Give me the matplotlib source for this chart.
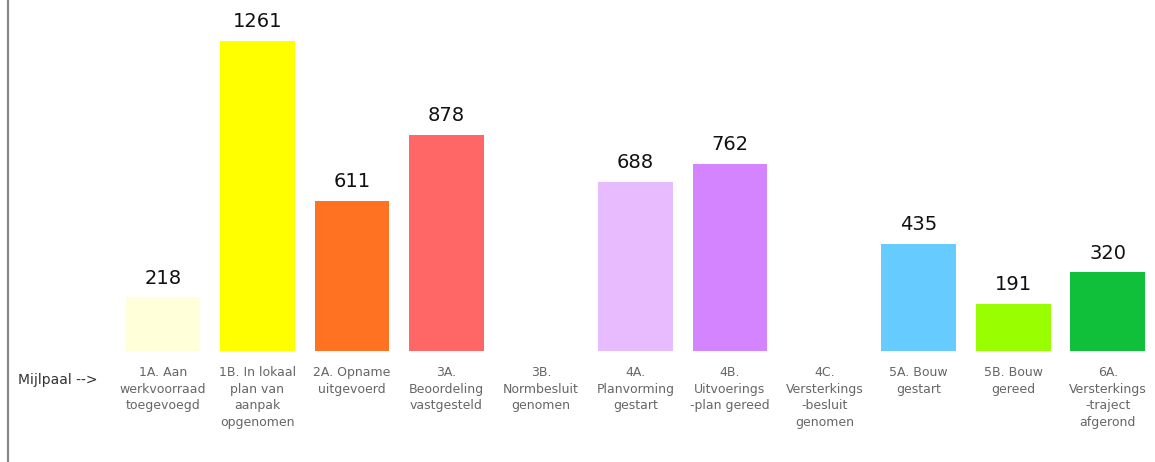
import matplotlib
matplotlib.use("Agg")
import matplotlib.pyplot as plt
from matplotlib.lines import Line2D

# Mijlpalen en aantallen
categories = [
    "1A. Aan\nwerkvoorraad\ntoegevoegd",
    "1B. In lokaal\nplan van\naanpak\nopgenomen",
    "2A. Opname\nuitgevoerd",
    "3A.\nBeoordeling\nvastgesteld",
    "3B.\nNormbesluit\ngenomen",
    "4A.\nPlanvorming\ngestart",
    "4B.\nUitvoerings\n-plan gereed",
    "4C.\nVersterkings\n-besluit\ngenomen",
    "5A. Bouw\ngestart",
    "5B. Bouw\ngereed",
    "6A.\nVersterkings\n-traject\nafgerond",
]
values = [218, 1261, 611, 878, None, 688, 762, None, 435, 191, 320]
colors = ["#FFFFDA", "#FFFF00", "#FF7222", "#FF6666", "#FFFFFF",
          "#E8BBFF", "#D584FF", "#FFFFFF", "#66CCFF", "#99FF00", "#11C03A"]

fig = plt.figure(figsize=(11.55, 4.62), dpi=100)
ax = fig.add_axes([0.1002, 0.2403, 0.8998, 0.7597])

x = list(range(len(categories)))
heights = [v if v is not None else 0 for v in values]
ax.bar(x, heights, width=0.79, color=colors)

for i, v in enumerate(values):
    if v is None:
        continue
    ax.annotate(str(v), (i, v), xytext=(0, 7), textcoords="offset points",
                ha="center", va="bottom", fontsize=14, color="#111111")

ax.set_xlim(-0.5, len(categories) - 0.5)
ax.set_ylim(0, 1428)
ax.set_xticks(x)
ax.set_xticklabels(categories, fontsize=9, color="#666666", linespacing=1.35)
ax.tick_params(axis="x", length=0, pad=11)
ax.set_yticks([])
for s in ax.spines.values():
    s.set_visible(False)

fig.text(0.016, 0.178, "Mijlpaal -->", fontsize=10, color="#333333",
         va="center", ha="left")

# grijze lijn langs de linkerrand
fig.add_artist(Line2D([0.0065, 0.0065], [0, 1], transform=fig.transFigure,
                      color="#888888", linewidth=1.6))

fig.savefig("out.png", dpi=100)
